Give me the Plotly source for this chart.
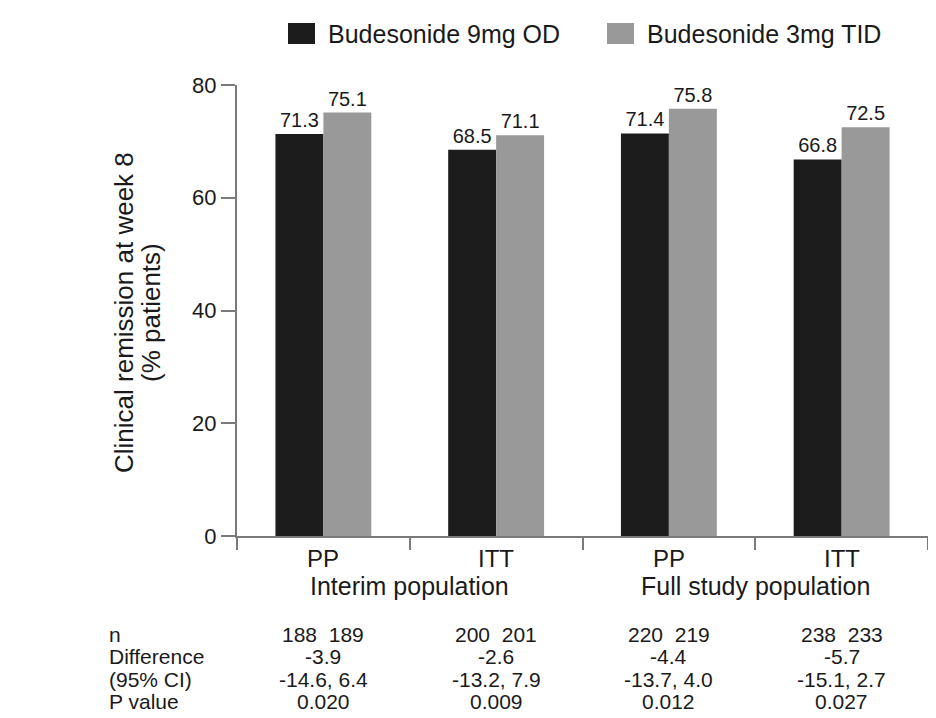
import plotly.graph_objects as go

categories = ["PP", "ITT", "PP", "ITT"]
populations = ["Interim population", "Full study population"]
series_names = ["Budesonide 9mg OD", "Budesonide 3mg TID"]
series_colors = ["#1c1c1c", "#999999"]
od_values = [71.3, 68.5, 71.4, 66.8]
tid_values = [75.1, 71.1, 75.8, 72.5]
n_values = ["188  189", "200  201", "220  219", "238  233"]
difference = ["-3.9", "-2.6", "-4.4", "-5.7"]
ci_values = ["-14.6, 6.4", "-13.2, 7.9", "-13.7, 4.0", "-15.1, 2.7"]
p_values = ["0.020", "0.009", "0.012", "0.027"]
row_labels = ["n", "Difference", "(95% CI)", "P value"]
y_ticks = [0, 20, 40, 60, 80]

FONT = "Liberation Sans, Arial, sans-serif"
TXT = "#1a1a1a"
AX = "#7a7a7a"
OFF = 8  # page body margin
W, H = 936, 718
ML, MT = 237 - OFF, 85 - OFF
MR = W - (928 - OFF)
MB = H - (536 - OFF)
PW = W - ML - MR
PH = H - MT - MB

def py(pix):
    return ((H - MB) - (pix - OFF)) / PH

def px(pix):
    return ((pix - OFF) - ML) / PW

xs = list(range(len(categories)))

fig = go.Figure()
for name, vals, col in zip(series_names, [od_values, tid_values], series_colors):
    fig.add_trace(go.Bar(
        x=xs, y=vals, name=name, showlegend=False,
        marker=dict(color=col, line=dict(width=0)),
        text=[f"{v:.1f}" for v in vals], textposition="outside",
        textfont=dict(size=20, color=TXT, family=FONT), cliponaxis=False,
    ))

annotations = []
shapes = []
row_y = [634, 656, 679, 701]
table_rows = [n_values, difference, ci_values, p_values]
for i, c in enumerate(categories):
    annotations.append(dict(x=i, y=py(558), xref="x", yref="paper", text=c,
                            showarrow=False, xanchor="center", yanchor="middle",
                            font=dict(size=24, color=TXT, family=FONT)))
    for r, vals in enumerate(table_rows):
        annotations.append(dict(x=i, y=py(row_y[r]), xref="x", yref="paper", text=vals[i],
                                showarrow=False, xanchor="center", yanchor="middle",
                                font=dict(size=21, color=TXT, family=FONT)))
for j, p in enumerate(populations):
    annotations.append(dict(x=2 * j + 0.5, y=py(586), xref="x", yref="paper", text=p,
                            showarrow=False, xanchor="center", yanchor="middle",
                            font=dict(size=25, color=TXT, family=FONT)))
for r, lab in enumerate(row_labels):
    annotations.append(dict(x=px(107), y=py(row_y[r]), xref="paper", yref="paper",
                            text=lab, showarrow=False, xanchor="left", yanchor="middle",
                            font=dict(size=21, color=TXT, family=FONT)))
for txt, xc in [("Clinical remission at week 8", 124), ("(% patients)", 151)]:
    annotations.append(dict(x=px(xc), y=py(313), xref="paper", yref="paper",
                            text=txt, textangle=-90, showarrow=False,
                            xanchor="center", yanchor="middle",
                            font=dict(size=26, color=TXT, family=FONT)))

# legend drawn as shapes + text
leg_x = [288, 607]
for k in range(2):
    x0 = leg_x[k]
    shapes.append(dict(type="rect", xref="paper", yref="paper",
                       x0=px(x0), x1=px(x0 + 27), y0=py(44), y1=py(23),
                       fillcolor=series_colors[k], line=dict(width=0)))
    annotations.append(dict(x=px(x0 + 38), y=py(34), xref="paper", yref="paper",
                            text=series_names[k], showarrow=False, xanchor="left",
                            yanchor="middle", font=dict(size=25, color=TXT, family=FONT)))

fig.update_layout(
    width=W, height=H,
    margin=dict(l=ML, r=MR, t=MT, b=MB, autoexpand=False),
    paper_bgcolor="white", plot_bgcolor="white",
    barmode="group", bargap=0.445, bargroupgap=0,
    font=dict(family=FONT, color=TXT),
    showlegend=False,
    annotations=annotations, shapes=shapes,
    xaxis=dict(range=[-0.5, 3.5], tickvals=[-0.5, 0.5, 1.5, 2.5, 3.5],
               ticktext=["", "", "", "", ""], ticks="outside", ticklen=12,
               tickcolor=AX, tickwidth=2, showline=True, linecolor=AX, linewidth=2,
               showgrid=False, zeroline=False),
    yaxis=dict(range=[0, 80], tickvals=y_ticks, ticks="outside", ticklen=14,
               tickcolor=AX, tickwidth=2, showline=True, linecolor=AX, linewidth=2,
               showgrid=False, zeroline=False, tickfont=dict(size=22, color=TXT, family=FONT)),
)

fig.write_html("out.html")
